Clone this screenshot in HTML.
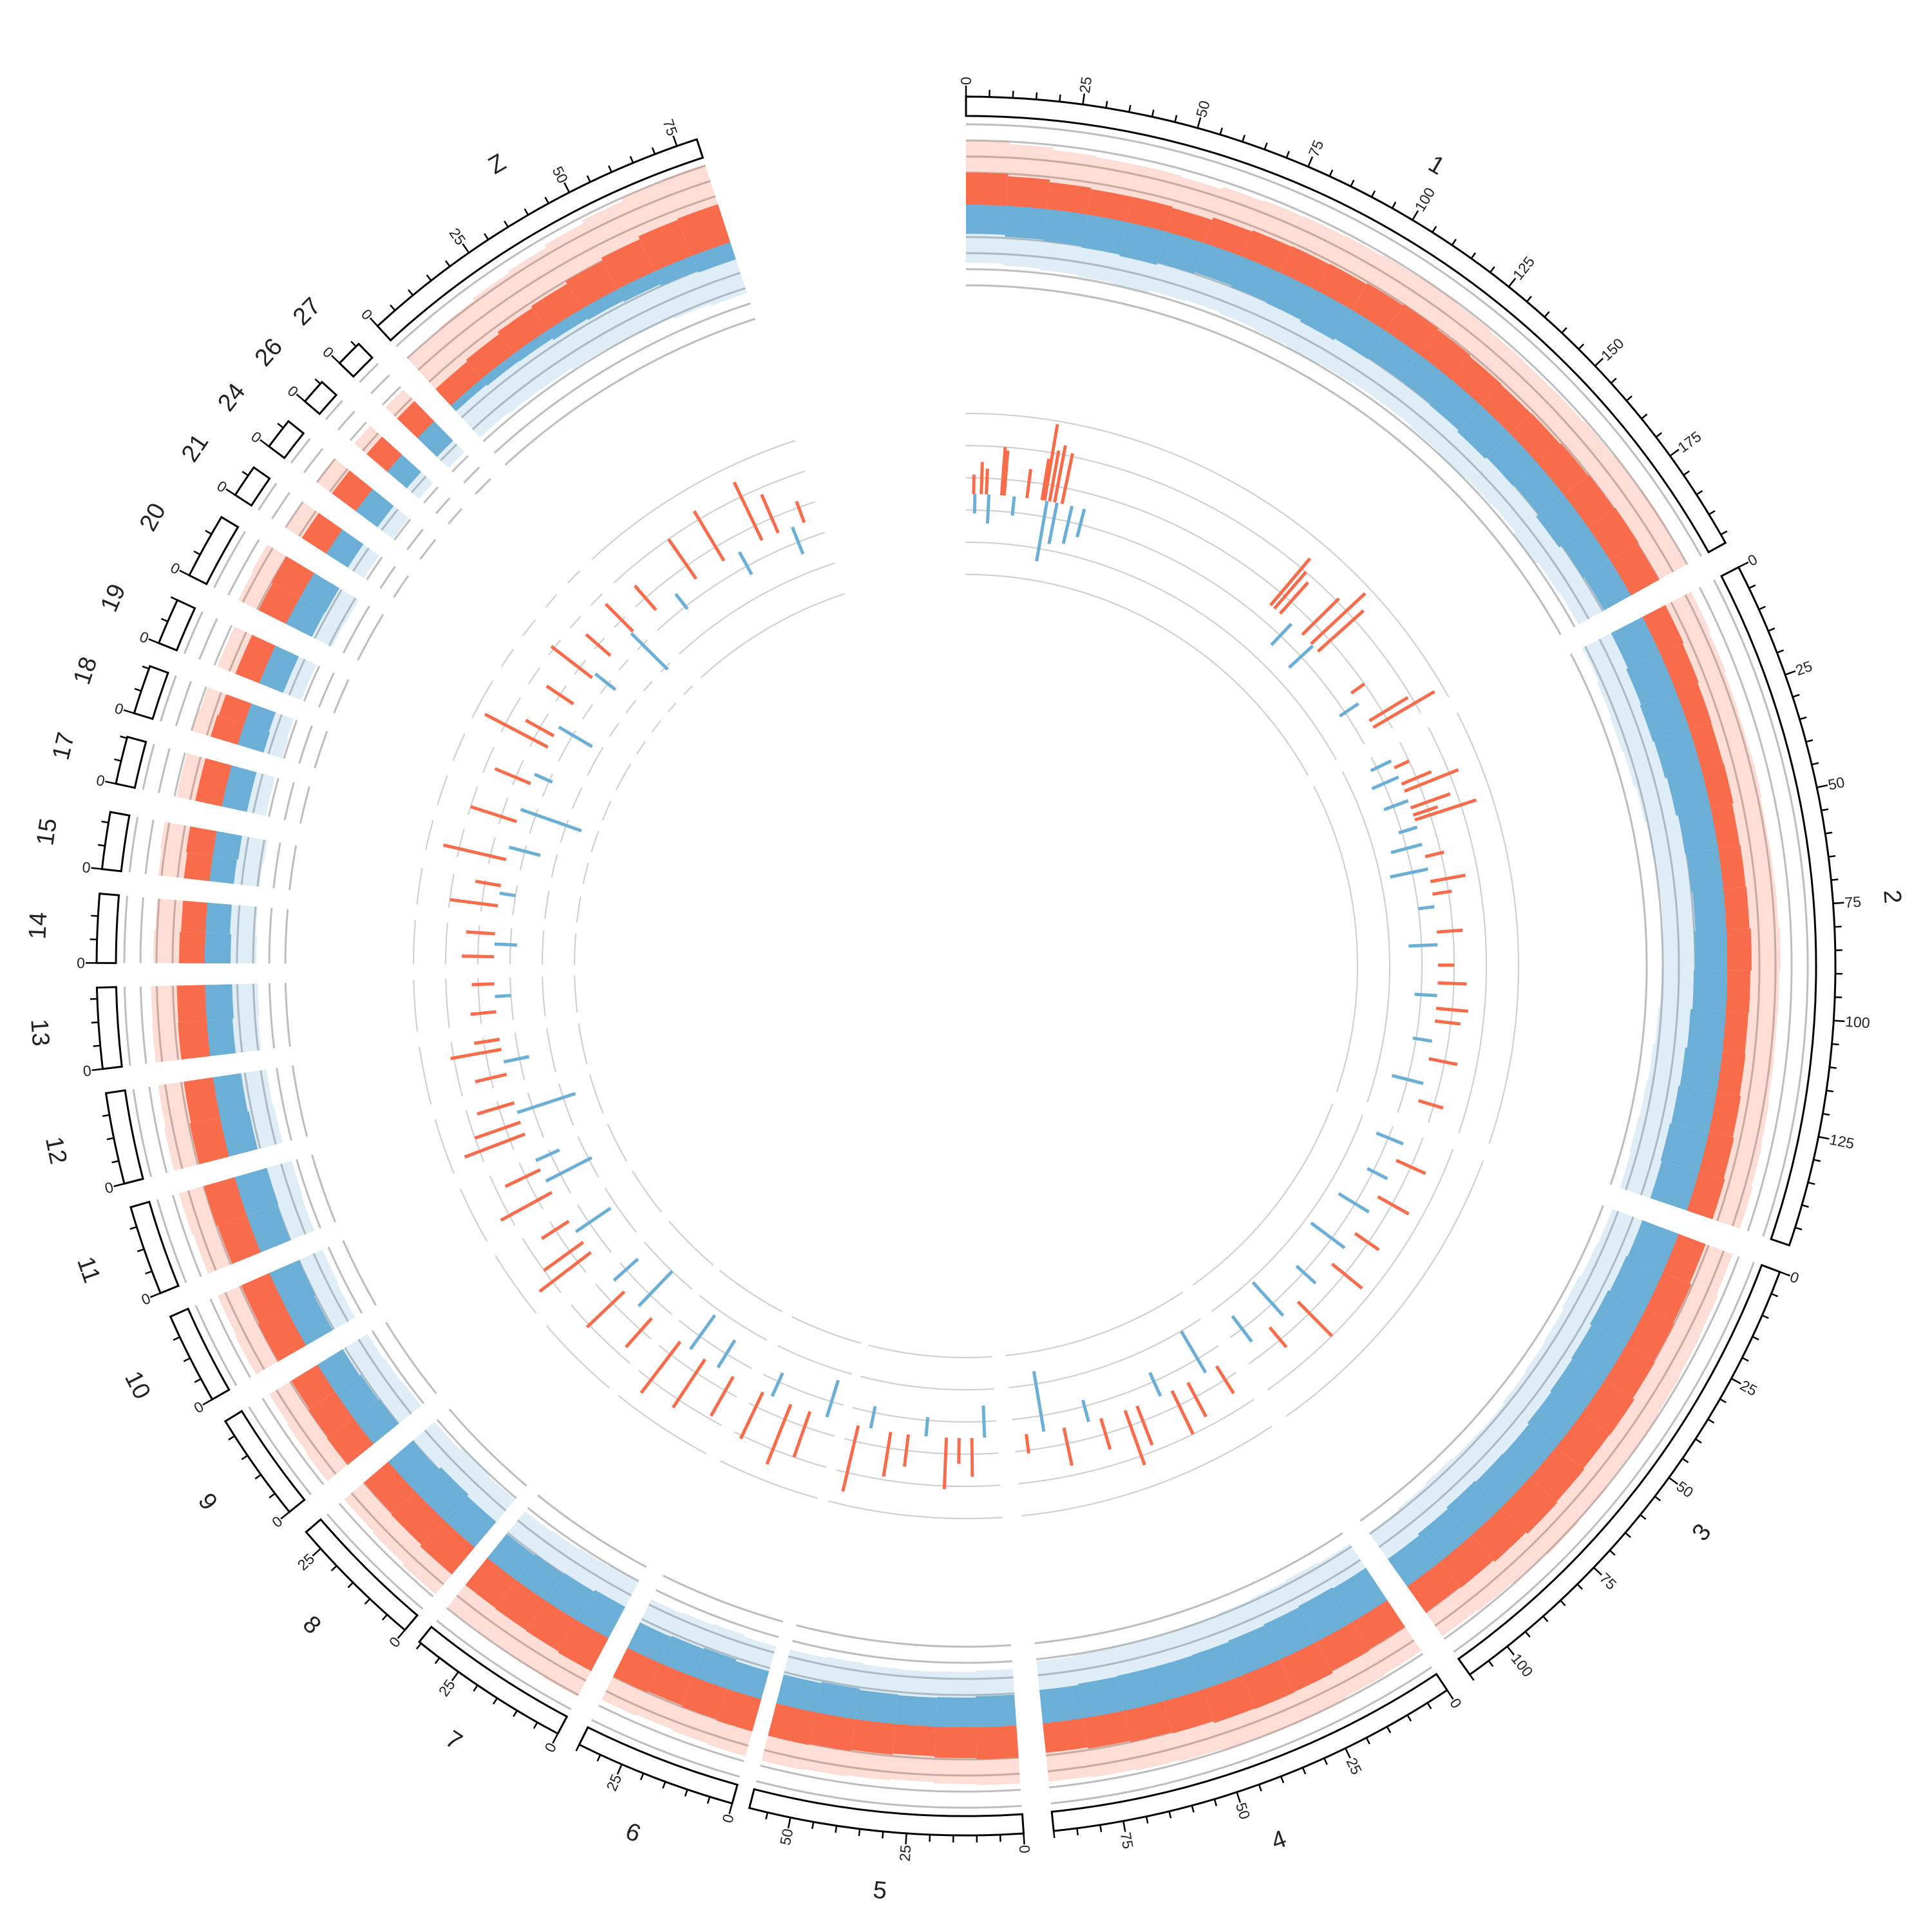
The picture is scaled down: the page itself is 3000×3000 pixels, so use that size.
<!DOCTYPE html>
<html><head><meta charset="utf-8">
<style>
html,body{margin:0;padding:0;background:#fff;}
svg{display:block;}
text{font-family:"Liberation Sans","DejaVu Sans",sans-serif;fill:#222;}
</style></head>
<body>
<svg id="chart" width="3000" height="3000" viewBox="0 0 3000 3000" xmlns="http://www.w3.org/2000/svg">
<g id="g-grid"></g>
<g id="g-outer"></g>
<g id="g-inner"></g>
<g id="g-axis"></g>
<g id="g-labels"></g>
</svg>
<script>
// ---- chromosome layout data ----
const chrNames = ["1","2","3","4","5","6","7","8","9","10","11","12","13","14","15","17","18","19","20","21","24","26","27","Z"];
const chrSizes = [197,149,110,90,59,35,35.5,29.7,23.7,19.8,19.4,19.7,17.4,14.8,12.3,10.3,10.6,10,14.2,7.1,6.8,5.5,5.8,79.5];
const chrStartDeg = [0,62.7,110.6,146.4,176.2,195.6,208.0,220.2,231.1,240.1,247.9,255.5,263.2,270.2,276.4,282.1,286.9,291.8,296.7,302.8,306.7,310.5,313.9,317.4];
const degPerMb = 0.309;
const tickMinor = 5, tickMajor = 25;

// ---- outer density track (px height per ~10 Mb bin) ----
const redBulk = {
 "1":[50,46,42,40,40,38,42,44,45,46,48,50,48,46,45,46,48,50,52,50],
 "2":[40,38,36,35,36,34,35,36,38,36,35,36,38,40,42],
 "3":[45,48,50,52,55,54,56,58,55,52,50],
 "4":[50,52,55,56,55,52,50,48,46],
 "5":[50,48,46,48,50,52],
 "6":[52,50,48,50],"7":[58,56,55,54],"8":[55,52,50],"9":[52,50,48],"10":[50,48],
 "11":[48,50],"12":[48,46],"13":[45,44],"14":[40,38],"15":[40,42],"17":[42],"18":[44,42],
 "19":[40],"20":[48,50],"21":[45],"24":[46],"26":[42],"27":[44],
 "Z":[35,38,42,45,50,55,60,62]
};
const blueBulk = {
 "1":[45,48,50,52,54,50,48,50,52,55,52,50,50,52,55,52,50,55,50,48],
 "2":[55,58,60,58,55,52,50,48,50,52,55,58,60,62,60],
 "3":[60,62,65,62,60,58,55,56,58,55,52],
 "4":[60,62,60,58,56,55,55,54,52],
 "5":[48,46,45,46,48,46],
 "6":[45,48,46,44],"7":[55,52,50,48],"8":[52,55,50],"9":[50,48,46],"10":[48,50],
 "11":[50,52],"12":[46,44],"13":[40,42],"14":[40,38],"15":[38,40],"17":[40],"18":[42,40],
 "19":[40],"20":[45,46],"21":[40],"24":[42],"26":[40],"27":[42],
 "Z":[12,14,15,18,20,22,25,28]
};
const redPeak = {"1":50,"2":45,"3":45,"4":45,"5":40,"6":40,"7":45,"8":40,"9":40,"10":40,"11":40,"12":40,"13":40,"14":40,"15":40,"17":30,"18":30,"19":30,"20":35,"21":30,"24":30,"26":25,"27":25,"Z":65};
const bluePeak = {"1":45,"2":50,"3":50,"4":45,"5":40,"6":40,"7":45,"8":45,"9":45,"10":40,"11":40,"12":40,"13":40,"14":40,"15":40,"17":30,"18":30,"19":30,"20":35,"21":30,"24":30,"26":25,"27":25,"Z":55};

// ---- inner ratio track: chromosome, position (Mb), value (+ red outward / - blue inward) ----
const innerChr = ["1","1","1","1","1","1","1","1","1","1","1","1","1","1","1","1","1","1","1","1","1","1","1","1","1","1","1","1","1","1",
 "2","2","2","2","2","2","2","2","2","2","2","2","2","2","2","2","2","2","2","2","2","2","2","2","2","2","2",
 "3","3","3","3","3","3","3","3","3","3","3","3","3",
 "4","4","4","4","4","4","4","4","4","4","4","4",
 "5","5","5","5","5","5","5","5","5",
 "6","6","6","6","6","7","7","7","7","7","8","8","8","8","9","9","9","9","10","10","10","10",
 "11","11","11","11","12","12","12","12","13","13","13","14","14","14","15","15","15",
 "17","17","18","18","19","19","20","20","20","21","24","24","26","27","27",
 "Z","Z","Z","Z","Z","Z","Z","Z","Z"];
const innerPos = [3,3.5,6,8,9,14,15,19,24,30,31,32,33,35,36,38,42,47,130,132,135,141,147,152,153,156,177,182,190,193,
 5,8,12,15,18,22,25,28,30,33,40,45,50,55,60,65,75,80,88,95,100,105,110,118,125,135,142,
 5,12,20,28,35,45,52,60,70,80,88,95,104,
 5,10,18,25,30,40,45,55,60,70,78,85,
 5,10,15,20,28,35,42,50,55,
 5,12,20,28,32,5,12,18,25,30,5,12,20,26,5,10,15,20,4,9,14,18,
 4,9,13,17,4,9,14,18,4,10,15,3,8,12,3,8,11,
 3,8,3,8,3,7,3,8,12,3,3,5,2,3,4,
 5,15,25,38,45,55,62,68,73];
const innerVal = [0.6,-0.6,1.0,0.8,-0.9,1.5,1.4,-0.6,0.9,1.3,2.4,-1.9,1.6,1.8,-1.3,1.6,-1.2,-0.9,1.9,1.5,1.3,-0.9,1.6,2.3,-1.0,1.9,0.5,-0.7,1.4,2.2,
 -0.7,0.5,-0.9,1.0,1.8,-0.8,1.3,0.8,2.0,-0.6,-1.0,0.6,-1.2,1.1,0.6,-0.5,0.8,-0.9,0.5,0.9,-0.7,1.0,0.8,-0.6,0.9,-1.0,0.8,
 -0.9,1.0,-0.7,1.1,-1.1,0.9,-1.3,1.2,-0.8,1.5,-1.4,0.8,-1.0,
 1.0,-1.5,1.2,1.5,-0.8,1.3,1.8,1.0,-0.7,1.2,-1.9,0.6,
 -1.0,1.2,0.8,1.6,-0.6,1.0,1.4,-0.7,2.1,
 -1.2,1.5,2.0,-0.8,1.6,1.4,-1.0,1.8,-1.3,2.0,1.2,-1.5,1.6,-1.0,2.0,1.5,-1.3,1.0,1.8,-1.6,1.2,-0.8,
 2.0,1.5,-1.9,1.2,1.0,-0.8,1.6,0.8,0.8,-0.5,0.7,1.0,-0.7,0.9,1.5,-0.5,0.8,
 2.0,-1.0,1.5,-2.0,1.2,-0.6,2.2,1.0,-1.2,1.0,1.6,-0.8,1.0,-1.6,1.2,
 1.0,-0.6,1.5,1.8,-0.8,2.0,1.3,-0.9,0.7];

// ---- geometry ----
const CX = 1500, CY = 1500;
const R_AX_OUT = 1350, R_AX_IN = 1320;
const R_OUT_BASE = 1182, R_OUT_MIN = 1057, R_OUT_STEP = 25, N_OUT = 11;
const R_IN_BASE = 733, R_IN_MIN = 608, R_IN_STEP = 50, N_IN = 6, IN_UNIT = 50;
const RED = "#f86b4b", BLUE = "#6baed6";
const NS = "http://www.w3.org/2000/svg";

function pt(r, a){ const t = a*Math.PI/180; return [CX + r*Math.sin(t), CY - r*Math.cos(t)]; }
function ang(ci, mb){ return chrStartDeg[ci] + mb*degPerMb; }
function arcD(r, a1, a2){ const p1=pt(r,a1), p2=pt(r,a2); const lg=(a2-a1)>180?1:0;
  return "M"+p1[0].toFixed(2)+","+p1[1].toFixed(2)+" A"+r+","+r+" 0 "+lg+" 1 "+p2[0].toFixed(2)+","+p2[1].toFixed(2); }
function sectorD(r1, r2, a1, a2){ const p1=pt(r2,a1), p2=pt(r2,a2), p3=pt(r1,a2), p4=pt(r1,a1); const lg=(a2-a1)>180?1:0;
  return "M"+p1[0].toFixed(2)+","+p1[1].toFixed(2)+" A"+r2+","+r2+" 0 "+lg+" 1 "+p2[0].toFixed(2)+","+p2[1].toFixed(2)+
   " L"+p3[0].toFixed(2)+","+p3[1].toFixed(2)+" A"+r1+","+r1+" 0 "+lg+" 0 "+p4[0].toFixed(2)+","+p4[1].toFixed(2)+" Z"; }
function mk(tag, attrs, parent){ const e=document.createElementNS(NS,tag); for(const k in attrs) e.setAttribute(k, attrs[k]); parent.appendChild(e); return e; }

const gGrid = document.getElementById("g-grid"), gOuter = document.getElementById("g-outer"),
      gInner = document.getElementById("g-inner"), gAxis = document.getElementById("g-axis"),
      gLab = document.getElementById("g-labels");

chrNames.forEach((name, ci) => {
  const a1 = ang(ci, 0), a2 = ang(ci, chrSizes[ci]);
  for (let k=0; k<N_OUT; k++){
    const e = mk("path", {d: arcD(R_OUT_MIN + k*R_OUT_STEP, a1, a2), fill:"none", stroke:"#bdbdbd", "stroke-width":3}, gGrid);
    
    
  }
  for (let k=0; k<N_IN; k++){
    const e = mk("path", {d: arcD(R_IN_MIN + k*R_IN_STEP, a1, a2), fill:"none", stroke:"#d0d0d0", "stroke-width":2.2}, gGrid);
    
    
  }
  const rb = redBulk[name], bb = blueBulk[name];
  const n = rb.length, binMb = chrSizes[ci]/n;
  for (let i=0; i<n; i++){
    const b1 = ang(ci, i*binMb), b2 = ang(ci, (i+1)*binMb);
    let e = mk("path", {d: sectorD(R_OUT_BASE + rb[i], R_OUT_BASE + rb[i] + redPeak[name], b1, b2), fill:RED, "fill-opacity":0.22}, gOuter);
    
    
    e = mk("path", {d: sectorD(R_OUT_BASE, R_OUT_BASE + rb[i], b1, b2), fill:RED}, gOuter);
    
    
    e = mk("path", {d: sectorD(R_OUT_BASE - bb[i] - bluePeak[name], R_OUT_BASE - bb[i], b1, b2), fill:BLUE, "fill-opacity":0.22}, gOuter);
    
    
    e = mk("path", {d: sectorD(R_OUT_BASE - bb[i], R_OUT_BASE, b1, b2), fill:BLUE}, gOuter);
    
    
  }
  const box = mk("path", {d: arcD(R_AX_OUT, a1, a2) + " L" + pt(R_AX_IN,a2).map(v=>v.toFixed(2)).join(",") +
      " A"+R_AX_IN+","+R_AX_IN+" 0 0 0 "+pt(R_AX_IN,a1).map(v=>v.toFixed(2)).join(",")+" Z",
      fill:"none", stroke:"#000", "stroke-width":3, "stroke-linejoin":"miter"}, gAxis);
  
  
  for (let mb=0; mb<=chrSizes[ci]+1e-6; mb+=tickMinor){
    const a = ang(ci, mb), major = (mb % tickMajor === 0);
    const p1 = pt(R_AX_OUT, a), p2 = pt(R_AX_OUT + (major?17:11), a);
    const t = mk("line", {x1:p1[0], y1:p1[1], x2:p2[0], y2:p2[1], stroke:"#000", "stroke-width":2.5}, gAxis);
    
    
    if (major){
      const lp = pt(1368, a);
      const rot = a < 180 ? a-90 : a+90;
      const tx = mk("text", {x:lp[0], y:lp[1], "font-size":23, "text-anchor": a<180?"start":"end", "dominant-baseline":"central",
        transform:"rotate("+rot.toFixed(2)+" "+lp[0].toFixed(2)+" "+lp[1].toFixed(2)+")"}, gAxis);
      tx.textContent = String(mb);
      
      
    }
  }
  const am = (a1+a2)/2, lp = pt(1442, am);
  const rot = (am < 90 || am > 270) ? am : am-180;
  const lab = mk("text", {x:lp[0], y:lp[1], "font-size":38, "text-anchor":"middle", "dominant-baseline":"central",
    transform:"rotate("+rot.toFixed(2)+" "+lp[0].toFixed(2)+" "+lp[1].toFixed(2)+")"}, gLab);
  lab.textContent = name;
  
  
});

innerChr.forEach((c, i) => {
  const ci = chrNames.indexOf(c);
  if (ci < 0) return;
  const a = ang(ci, innerPos[i]), v = innerVal[i];
  const p1 = pt(R_IN_BASE, a), p2 = pt(R_IN_BASE + v*IN_UNIT, a);
  const e = mk("line", {x1:p1[0].toFixed(2), y1:p1[1].toFixed(2), x2:p2[0].toFixed(2), y2:p2[1].toFixed(2),
     stroke: v>=0?RED:BLUE, "stroke-width":5}, gInner);
  
  
});
</script>
</body></html>
